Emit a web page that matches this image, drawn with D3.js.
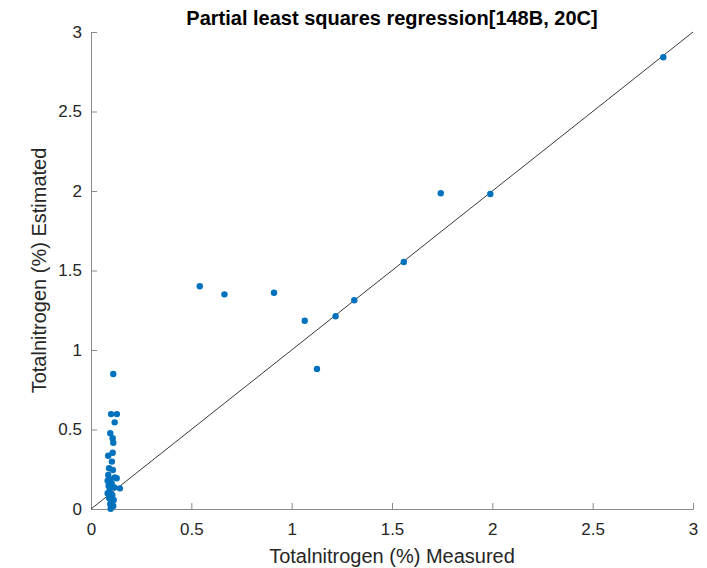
<!DOCTYPE html>
<html>
<head>
<meta charset="utf-8">
<script src="https://cdn.jsdelivr.net/npm/d3@7"></script>
<style>
  body { margin: 0; background: #fff; }
  svg { font-family: "Liberation Sans", Arial, sans-serif; }
</style>
</head>
<body>
<svg id="chart" width="707" height="568"></svg>
<script>
// measured vs estimated total nitrogen (%)
var measured = [
  2.852, 1.990, 1.743, 1.559, 1.312, 1.219, 1.065, 1.126, 0.912, 0.665, 0.542,
  0.111, 0.100, 0.129, 0.118, 0.096, 0.108, 0.111, 0.108, 0.086, 0.104,
  0.090, 0.109, 0.086, 0.119, 0.128, 0.095, 0.083, 0.103, 0.088, 0.116,
  0.144, 0.093, 0.083, 0.106, 0.091, 0.113, 0.096, 0.111, 0.098
];
var estimated = [
  2.841, 1.981, 1.986, 1.553, 1.313, 1.212, 1.184, 0.881, 1.360, 1.350, 1.401,
  0.849, 0.597, 0.597, 0.545, 0.476, 0.445, 0.417, 0.354, 0.335, 0.298,
  0.256, 0.245, 0.214, 0.199, 0.193, 0.187, 0.178, 0.162, 0.145, 0.136,
  0.130, 0.115, 0.099, 0.088, 0.067, 0.057, 0.031, 0.019, 0.002
];
var tickValues = [0, 0.5, 1, 1.5, 2, 2.5, 3];

var svg = d3.select("#chart");
var mLeft = 91, mRight = 693, mTop = 32, mBottom = 509;
var axisColor = "#8a8a8a";
var textColor = "#262626";

var x = d3.scaleLinear().domain([0, 3]).range([mLeft, mRight]);
var y = d3.scaleLinear().domain([0, 3]).range([mBottom, mTop]);

// x axis, ticks point inward
var gx = svg.append("g").attr("transform", "translate(0," + mBottom + ")")
  .call(d3.axisBottom(x).tickValues(tickValues).tickSizeInner(-6).tickSizeOuter(0).tickPadding(14)
    .tickFormat(d3.format("")));
gx.select(".domain").attr("stroke", axisColor);
gx.selectAll(".tick line").attr("stroke", axisColor);
gx.selectAll(".tick text").attr("fill", textColor).attr("font-size", 17)
  .attr("font-family", "Liberation Sans, Arial, sans-serif");

var gy = svg.append("g").attr("transform", "translate(" + mLeft + ",0)")
  .call(d3.axisLeft(y).tickValues(tickValues).tickSizeInner(-6).tickSizeOuter(0).tickPadding(9)
    .tickFormat(d3.format("")));
gy.select(".domain").attr("stroke", axisColor);
gy.selectAll(".tick line").attr("stroke", axisColor);
gy.selectAll(".tick text").attr("fill", textColor).attr("font-size", 17)
  .attr("font-family", "Liberation Sans, Arial, sans-serif");

// 1:1 line
svg.append("line")
  .attr("x1", x(0)).attr("y1", y(0))
  .attr("x2", x(3)).attr("y2", y(3))
  .attr("stroke", "#222").attr("stroke-width", 0.9);

// points
svg.append("g").selectAll("circle")
  .data(measured)
  .join("circle")
  .attr("cx", function (d) { return x(d); })
  .attr("cy", function (d, i) { return y(estimated[i]); })
  .attr("r", 3.2)
  .attr("fill", "#0072BD");

// labels
svg.append("text")
  .attr("x", (mLeft + mRight) / 2).attr("y", 25)
  .attr("text-anchor", "middle")
  .attr("font-size", 20).attr("font-weight", "bold").attr("fill", "#000")
  .text("Partial least squares regression[148B, 20C]");

svg.append("text")
  .attr("x", (mLeft + mRight) / 2).attr("y", 563)
  .attr("text-anchor", "middle")
  .attr("font-size", 20).attr("fill", textColor)
  .text("Totalnitrogen (%) Measured");

svg.append("text")
  .attr("transform", "translate(46," + (mTop + mBottom) / 2 + ") rotate(-90)")
  .attr("text-anchor", "middle")
  .attr("font-size", 20).attr("fill", textColor)
  .text("Totalnitrogen (%) Estimated");
</script>
</body>
</html>
